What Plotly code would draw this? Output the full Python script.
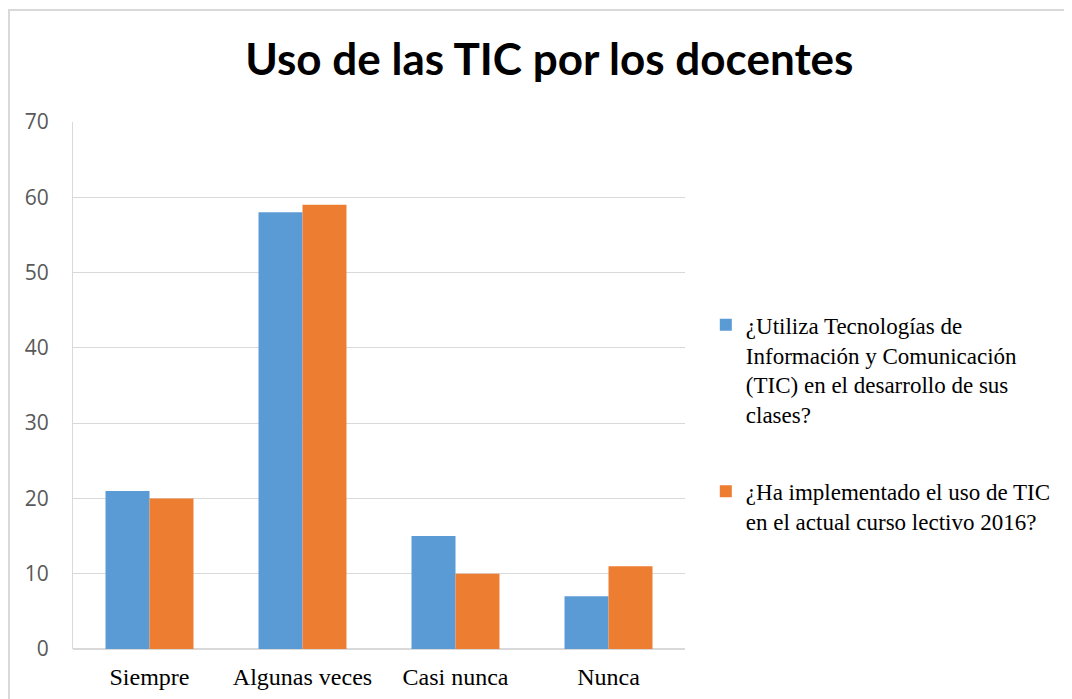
import plotly.graph_objects as go

categorias = ["Siempre", "Algunas veces", "Casi nunca", "Nunca"]
serie_1 = [21, 58, 15, 7]
serie_2 = [20, 59, 10, 11]
nombre_1 = "¿Utiliza Tecnologías de<br>Información y Comunicación<br>(TIC) en el desarrollo de sus<br>clases?"
nombre_2 = "¿Ha implementado el uso de TIC<br>en el actual curso lectivo 2016?"
y_ticks = [0, 10, 20, 30, 40, 50, 60, 70]

trace1 = go.Bar(x=categorias, y=serie_1, name=nombre_1, marker_color="#5B9BD5",
                marker_line_width=0, legendgroup="a")
trace2 = go.Bar(x=categorias, y=serie_2, name=nombre_2, marker_color="#ED7D31",
                marker_line_width=0, legendgroup="b")

layout = go.Layout(
    width=1072, height=699,
    margin=dict(l=65, r=395, t=114, b=58),
    paper_bgcolor="white", plot_bgcolor="white",
    title=dict(text="<b>Uso de las TIC por los docentes</b>", x=0.505, xanchor="center",
               y=0.926, yanchor="middle",
               font=dict(family="Lato, Open Sans, sans-serif", size=44, color="black")),
    bargap=0.425, bargroupgap=0,
    xaxis=dict(showgrid=False, showline=False, ticks="", ticklabelstandoff=11,
               tickfont=dict(family="Liberation Serif, serif", size=24, color="black")),
    yaxis=dict(range=[0, 70], tickvals=y_ticks, showgrid=True, gridcolor="#D9D9D9", gridwidth=1,
               showline=True, linecolor="#D9D9D9", zeroline=True, zerolinecolor="#D9D9D9",
               ticks="", ticklabelstandoff=19,
               tickfont=dict(family="Open Sans, sans-serif", size=21, color="#595959")),
    legend=dict(x=1.034, xanchor="left", y=0.656, yanchor="top", valign="top",
                tracegroupgap=44, itemclick=False,
                font=dict(family="Liberation Serif, serif", size=23, color="black")),
    showlegend=True,
    shapes=[dict(type="rect", xref="paper", yref="paper", x0=-0.1046, x1=1.7, y0=-0.2, y1=1.2125,
                 line=dict(color="#D9D9D9", width=2), fillcolor="rgba(0,0,0,0)", layer="below")],
)

fig = go.Figure(data=[trace1, trace2], layout=layout)
fig.write_html("out.html")
